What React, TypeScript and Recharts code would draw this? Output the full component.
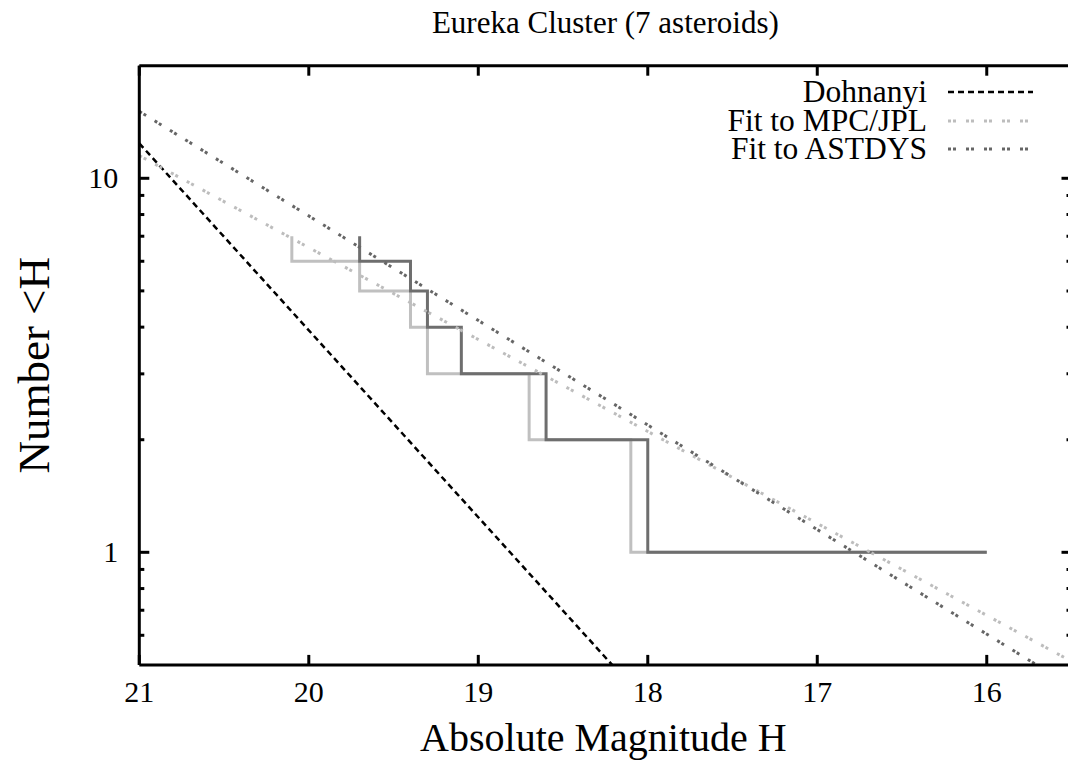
import React from 'react';
import { LineChart, Line, XAxis, YAxis, Label, Legend } from 'recharts';

const title = 'Eureka Cluster (7 asteroids)';
const xTitle = 'Absolute Magnitude H';
const yTitle = 'Number <H';

// absolute magnitudes of the 7 members, from the two catalogues
const mpcMag = [16.0, 18.1, 18.7, 19.3, 19.4, 19.7, 20.1];
const astdysMag = [16.0, 18.0, 18.6, 19.1, 19.3, 19.4, 19.7];

const fitH = [21, 15.5];
const dohnanyiN = [12.4, 0.0221];
const mpcFitN = [11.5, 0.511];
const astdysFitN = [15.1, 0.438];

const xTicks = [21, 20, 19, 18, 17, 16];
const yTicks = [0.6, 0.7, 0.8, 0.9, 1, 2, 3, 4, 5, 6, 7, 8, 9, 10];
const yLabelled = [1, 10];

const FONT = '"Liberation Serif", "Times New Roman", serif';

// cumulative count N(<H), walked from faint to bright
function cumulative(mags: number[]) {
  const s = [...mags].sort((a, b) => a - b);
  const pts = [{ h: s[s.length - 1], n: s.length }];
  for (let k = s.length - 1; k >= 1; k--) pts.push({ h: s[k], n: k });
  pts.push({ h: s[0], n: 1 });
  return pts;
}

const toLine = (n: number[]) => fitH.map((h, i) => ({ h, n: n[i] }));

const fits = [
  { name: 'Dohnanyi', data: toLine(dohnanyiN), color: '#000000', dash: '6 4', width: 2.5 },
  { name: 'Fit to MPC/JPL', data: toLine(mpcFitN), color: '#bdbdbd', dash: '3 2 3 10', width: 3 },
  { name: 'Fit to ASTDYS', data: toLine(astdysFitN), color: '#666666', dash: '3 2 3 10', width: 3 },
];

const BottomTick = (p: any) => (
  <g>
    <line x1={p.x} x2={p.x} y1={p.y} y2={p.y - 10} stroke="#000" strokeWidth={3} />
    <text x={p.x} y={p.y + 37} textAnchor="middle" fontSize={30} fontFamily={FONT} fill="#000">
      {p.payload.value}
    </text>
  </g>
);

const TopTick = (p: any) => (
  <line x1={p.x} x2={p.x} y1={p.y} y2={p.y + 10} stroke="#000" strokeWidth={3} />
);

const LeftTick = (p: any) => {
  const major = yLabelled.includes(p.payload.value);
  return (
    <g>
      <line x1={p.x} x2={p.x + (major ? 10 : 5)} y1={p.y} y2={p.y} stroke="#000" strokeWidth={3} />
      {major && (
        <text x={p.x - 21} y={p.y + 10} textAnchor="end" fontSize={30} fontFamily={FONT} fill="#000">
          {p.payload.value}
        </text>
      )}
    </g>
  );
};

const RightTick = (p: any) => {
  const major = yLabelled.includes(p.payload.value);
  return <line x1={p.x} x2={p.x - (major ? 10 : 5)} y1={p.y} y2={p.y} stroke="#000" strokeWidth={3} />;
};

const LegendBox = () => (
  <div style={{ fontFamily: FONT, fontSize: 31.5, color: '#000' }}>
    {fits.map((f) => (
      <div key={f.name} style={{ display: 'flex', justifyContent: 'flex-end', alignItems: 'center', height: 28.5 }}>
        <span style={{ lineHeight: '28px' }}>{f.name}</span>
        <svg width={85} height={10} style={{ marginLeft: 21 }}>
          <line x1={0} x2={85} y1={5} y2={5} stroke={f.color} strokeWidth={f.width} strokeDasharray={f.dash} />
        </svg>
      </div>
    ))}
  </div>
);

export default function App() {
  const axisLine = { stroke: '#000', strokeWidth: 3 };
  return (
    <div style={{ position: 'absolute', left: 0, top: 0, width: 1068, height: 771, overflow: 'hidden', background: '#fff' }}>
      <LineChart width={1100} height={771} margin={{ top: 64.7, right: 27.5, bottom: 0, left: 0 }}>
        <XAxis
          xAxisId="b"
          dataKey="h"
          type="number"
          domain={[15.5, 21]}
          reversed
          allowDataOverflow
          ticks={xTicks}
          interval={0}
          height={106.1}
          axisLine={axisLine}
          tickLine={false}
          tickSize={0}
          tickMargin={0}
          tick={<BottomTick />}
        >
          <Label
            content={(p: any) => (
              <text x={p.viewBox.x + p.viewBox.width / 2 - 2} y={p.viewBox.y + 86} textAnchor="middle" fontSize={40} fontFamily={FONT} fill="#000">
                {xTitle}
              </text>
            )}
          />
        </XAxis>
        <XAxis
          xAxisId="t"
          orientation="top"
          dataKey="h"
          type="number"
          domain={[15.5, 21]}
          reversed
          allowDataOverflow
          ticks={xTicks}
          interval={0}
          height={1}
          axisLine={axisLine}
          tickLine={false}
          tickSize={0}
          tickMargin={0}
          tick={<TopTick />}
        >
          <Label
            content={(p: any) => (
              <text x={p.viewBox.x + p.viewBox.width / 2} y={33} textAnchor="middle" fontSize={31} fontFamily={FONT} fill="#000">
                {title}
              </text>
            )}
          />
        </XAxis>
        <YAxis
          yAxisId="l"
          type="number"
          scale="log"
          domain={[0.5, 20]}
          allowDataOverflow
          ticks={yTicks}
          interval={0}
          width={139.3}
          axisLine={axisLine}
          tickLine={false}
          tickSize={0}
          tickMargin={0}
          tick={<LeftTick />}
        >
          <Label
            content={(p: any) => {
              const cx = p.viewBox.x + 49;
              const cy = p.viewBox.y + p.viewBox.height / 2;
              return (
                <text transform={`translate(${cx},${cy}) rotate(-90)`} textAnchor="middle" fontSize={45} fontFamily={FONT} fill="#000">
                  {yTitle}
                </text>
              );
            }}
          />
        </YAxis>
        <YAxis
          yAxisId="r"
          orientation="right"
          type="number"
          scale="log"
          domain={[0.5, 20]}
          allowDataOverflow
          ticks={yTicks}
          interval={0}
          width={1}
          axisLine={axisLine}
          tickLine={false}
          tickSize={0}
          tickMargin={0}
          tick={<RightTick />}
        />
        <Legend
          layout="vertical"
          align="center"
          verticalAlign="middle"
          content={<LegendBox />}
          wrapperStyle={{ position: 'absolute', left: 600, top: 78, width: 433 }}
        />
        <Line
          xAxisId="b"
          yAxisId="l"
          data={cumulative(mpcMag)}
          dataKey="n"
          type="stepAfter"
          stroke="#c0c0c0"
          strokeWidth={3}
          dot={false}
          legendType="none"
          isAnimationActive={false}
        />
        <Line
          xAxisId="b"
          yAxisId="l"
          data={cumulative(astdysMag)}
          dataKey="n"
          type="stepAfter"
          stroke="#6e6e6e"
          strokeWidth={3}
          dot={false}
          legendType="none"
          isAnimationActive={false}
        />
        {fits.map((f) => (
          <Line
            key={f.name}
            xAxisId="b"
            yAxisId="l"
            name={f.name}
            data={f.data}
            dataKey="n"
            type="linear"
            stroke={f.color}
            strokeWidth={f.width}
            strokeDasharray={f.dash}
            dot={false}
            isAnimationActive={false}
          />
        ))}
      </LineChart>
    </div>
  );
}
